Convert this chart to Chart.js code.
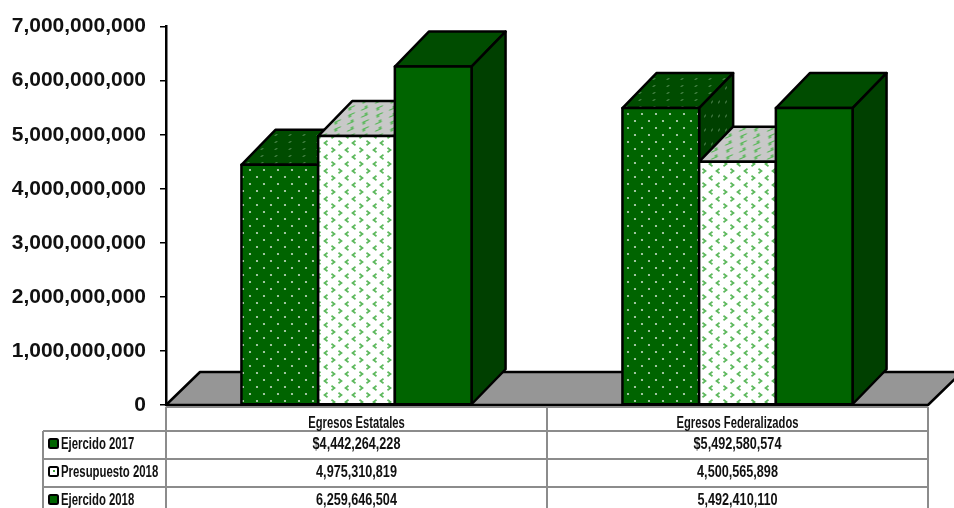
<!DOCTYPE html>
<html>
<head>
<meta charset="utf-8">
<title>Egresos</title>
<script src="https://cdn.jsdelivr.net/npm/chart.js@4"></script>
<style>
  html, body { margin: 0; padding: 0; background: #fff; overflow: hidden; }
  canvas { display: block; }
</style>
</head>
<body>
<canvas id="chart" width="954" height="508"></canvas>
<script>
const categories = ['Egresos Estatales', 'Egresos Federalizados'];
const seriesNames = ['Ejercido 2017', 'Presupuesto 2018', 'Ejercido 2018'];
const ejercido2017 = [4442264228, 5492580574];
const presupuesto2018 = [4975310819, 4500565898];
const ejercido2018 = [6259646504, 5492410110];
const yMax = 7000000000;
const yStep = 1000000000;

const DEPTH_X = 34, DEPTH_Y = 35, FLOOR_Y = 33;
const SANS = '"Liberation Sans", Arial, sans-serif';
const SHEAR_TOP = [1, 0, -1, 1, 0, 0], SHEAR_SIDE = [1, -1, 0, 1, 0, 0];

const fmt = v => v.toLocaleString('en-US');

// tile fills: dots for 2017, little chevrons for the budget, plain for 2018
function dots(bg, fg, matrix) {
    const c = document.createElement('canvas');
    c.width = c.height = 14;
    const g = c.getContext('2d');
    g.fillStyle = bg; g.fillRect(0, 0, 14, 14);
    g.fillStyle = fg;
    [[12, 2], [5, 9]].forEach(([x, y]) => {
        g.beginPath(); g.arc(x, y, 1.1, 0, Math.PI * 2); g.fill();
    });
    const p = g.createPattern(c, 'repeat');
    if (matrix) p.setTransform(new DOMMatrix(matrix));
    return p;
}
function chevrons(bg, fg, matrix) {
    const c = document.createElement('canvas');
    c.width = 28; c.height = 14;
    const g = c.getContext('2d');
    g.fillStyle = bg; g.fillRect(0, 0, 28, 14);
    g.strokeStyle = fg; g.lineWidth = 1.7;
    const mark = (x, y, dir) => {
        g.beginPath();
        g.moveTo(x - dir * 1.5, y - 2.2); g.lineTo(x + dir * 1.5, y); g.lineTo(x - dir * 1.5, y + 2.2);
        g.stroke();
    };
    mark(4, 3, 1); mark(18, 3, -1); mark(11, 10, -1); mark(25, 10, 1);
    const p = g.createPattern(c, 'repeat');
    if (matrix) p.setTransform(new DOMMatrix(matrix));
    return p;
}

const faces = [
    { top: dots('#004c00', '#4f8a4f', SHEAR_TOP), side: dots('#004000', '#4a7f4a', SHEAR_SIDE) },
    { top: chevrons('#c8c8c8', '#5cb85c', SHEAR_TOP), side: chevrons('#a0a0a0', '#5cb85c', SHEAR_SIDE) },
    { top: '#004c00', side: '#004000' },
];

function poly(ctx, pts, fill) {
    ctx.beginPath();
    pts.forEach(([x, y], i) => i ? ctx.lineTo(x, y) : ctx.moveTo(x, y));
    ctx.closePath();
    if (fill) { ctx.fillStyle = fill; ctx.fill(); }
    ctx.stroke();
}

// the table font is a very narrow one, so squeeze the bold sans sideways
function narrowText(ctx, text, x, y, squeeze, align) {
    ctx.save();
    ctx.translate(x, y);
    ctx.scale(squeeze, 1);
    ctx.font = 'bold 16px ' + SANS;
    ctx.textAlign = align;
    ctx.textBaseline = 'middle';
    ctx.fillStyle = '#111';
    ctx.fillText(text, 0, 0);
    ctx.restore();
}

const box3d = {
    id: 'box3d',
    beforeDatasetsDraw(chart) {
        const ctx = chart.ctx, a = chart.chartArea;
        ctx.save();
        ctx.lineJoin = 'round';
        ctx.strokeStyle = '#000';
        ctx.lineWidth = 2.5;
        // floor
        poly(ctx, [[a.left, a.bottom], [a.left + DEPTH_X, a.bottom - FLOOR_Y],
            [a.right + DEPTH_X, a.bottom - FLOOR_Y], [a.right, a.bottom]], '#969696');
        // boxes go left to right, so a later box covers the one before it
        chart.data.datasets.forEach((ds, i) => {
            chart.getDatasetMeta(i).data.forEach(bar => {
                const l = bar.x - bar.width / 2, r = bar.x + bar.width / 2, t = bar.y, b = bar.base;
                poly(ctx, [[l, t], [l + DEPTH_X, t - DEPTH_Y], [r + DEPTH_X, t - DEPTH_Y], [r, t]], faces[i].top);
                poly(ctx, [[r, t], [r + DEPTH_X, t - DEPTH_Y], [r + DEPTH_X, b - DEPTH_Y], [r, b]], faces[i].side);
                bar.draw(ctx);
                ctx.strokeRect(l, t, r - l, b - t);
            });
        });
        ctx.restore();
        return false;
    },
    afterDraw(chart) {
        const ctx = chart.ctx, a = chart.chartArea;
        const xs = chart.scales.x;
        const mid = (a.left + a.right) / 2;
        const rowLines = [431, 459, 487];
        const rowText = [445, 473, 501];
        const tableLeft = 43, H = chart.height;
        ctx.save();
        ctx.strokeStyle = '#8c8c8c';
        ctx.lineWidth = 2;
        ctx.beginPath();
        [a.left, mid, a.right].forEach(x => { ctx.moveTo(x, a.bottom + 2); ctx.lineTo(x, H); });
        ctx.moveTo(tableLeft, rowLines[0]); ctx.lineTo(tableLeft, H);
        ctx.moveTo(a.left, a.bottom + 2); ctx.lineTo(a.right, a.bottom + 2);
        rowLines.forEach(y => { ctx.moveTo(tableLeft, y); ctx.lineTo(a.right, y); });
        ctx.stroke();

        chart.data.labels.forEach((label, j) => {
            narrowText(ctx, label, xs.getPixelForValue(j), 424, 0.7, 'center');
        });
        chart.data.datasets.forEach((ds, i) => {
            const y = rowText[i];
            // legend key
            ctx.fillStyle = i === 1 ? '#fff' : '#006400';
            ctx.strokeStyle = '#000';
            ctx.lineWidth = 2;
            ctx.beginPath();
            ctx.roundRect(49, y - 6, 9, 9, 1.5);
            ctx.fill(); ctx.stroke();
            if (i === 1) { ctx.fillStyle = '#3c9c3c'; ctx.fillRect(53, y - 3, 2, 2); }
            narrowText(ctx, ds.label, 61, y, 0.71, 'left');
            ds.data.forEach((v, j) => {
                narrowText(ctx, (i === 0 ? '$' : '') + fmt(v), xs.getPixelForValue(j), y, 0.79, 'center');
            });
        });
        ctx.restore();
    },
};

const barData = [ejercido2017, presupuesto2018, ejercido2018];
const fronts = [dots('#006400', '#c8dcc8'), chevrons('#ffffff', '#5cb85c'), '#006400'];

new Chart(document.getElementById('chart'), {
    type: 'bar',
    data: {
        labels: categories,
        datasets: seriesNames.map((label, i) => ({
            label, data: barData[i], backgroundColor: fronts[i], borderWidth: 0,
            barPercentage: 1, categoryPercentage: 0.604,
        })),
    },
    plugins: [box3d],
    options: {
        responsive: false,
        animation: false,
        layout: { padding: { top: 24, right: 26, bottom: 0, left: 0 } },
        plugins: { legend: { display: false }, tooltip: { enabled: false } },
        scales: {
            x: {
                afterFit(s) { s.height = 103; },
                grid: { display: false },
                border: { display: false },
                ticks: { display: false },
            },
            y: {
                min: 0, max: yMax,
                afterFit(s) { s.width = 166; },
                grid: { drawOnChartArea: false, color: '#000', tickLength: 6, lineWidth: 1.5 },
                border: { color: '#000', width: 2.5 },
                ticks: {
                    stepSize: yStep, padding: 14, color: '#111',
                    font: { family: SANS, size: 21, weight: 'bold' },
                    callback: v => fmt(v),
                },
            },
        },
    },
});
</script>
</body>
</html>
